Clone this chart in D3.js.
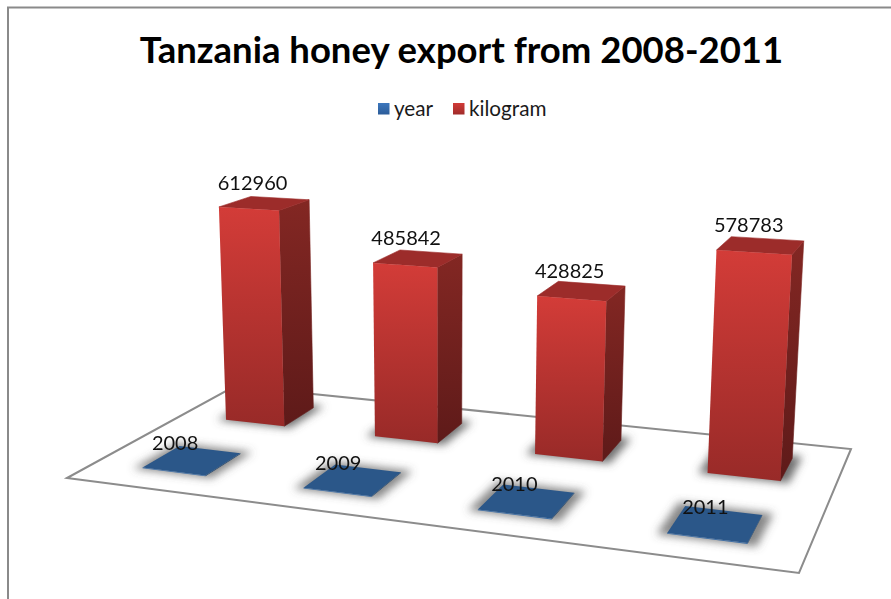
<!DOCTYPE html>
<html>
<head>
<meta charset="utf-8">
<style>
html,body{margin:0;padding:0;background:#fff;overflow:hidden}
text{font-family:Lato,"Open Sans",sans-serif}
</style>
<script src="https://cdnjs.cloudflare.com/ajax/libs/d3/7.8.5/d3.min.js"></script>
</head>
<body>
<svg id="chart" width="891" height="599"></svg>
<script>
const titleText = "Tanzania honey export from 2008-2011";
const categories = ["2008", "2009", "2010", "2011"];
const seriesNames = ["year", "kilogram"];
const yearValues = [2008, 2009, 2010, 2011];
const kilogramValues = [612960, 485842, 428825, 578783];
const valueTicks = [0, 700000];

// Camera set-up: floor corners on screen and the vanishing point of the vertical axis.
const floorQuad = [[67, 478], [799, 573], [851, 449], [235, 386]];
const verticalVanish = [446, 7000];
const riseFactor = -0.04;

function floorHomography([p0, p1, p2, p3]) {
  const dx1 = p1[0] - p2[0], dx2 = p3[0] - p2[0], sx = p0[0] - p1[0] + p2[0] - p3[0];
  const dy1 = p1[1] - p2[1], dy2 = p3[1] - p2[1], sy = p0[1] - p1[1] + p2[1] - p3[1];
  const den = dx1 * dy2 - dx2 * dy1;
  const g = (sx * dy2 - dx2 * sy) / den, h = (dx1 * sy - sx * dy1) / den;
  return {
    a: p1[0] - p0[0] + g * p1[0], b: p3[0] - p0[0] + h * p3[0], c: p0[0],
    d: p1[1] - p0[1] + g * p1[1], e: p3[1] - p0[1] + h * p3[1], f: p0[1], g, h
  };
}
const H = floorHomography(floorQuad);

// u runs along the categories, v runs into the depth, r is height above the floor.
function project(u, v, r) {
  const k = r * riseFactor;
  const w = H.g * u + H.h * v + 1 + k;
  return [
    (H.a * u + H.b * v + H.c + k * verticalVanish[0]) / w,
    (H.d * u + H.e * v + H.f + k * verticalVanish[1]) / w
  ];
}

const uScale = d3.scaleBand().domain(categories).range([0.002, 1.002]).paddingInner(0.6).paddingOuter(0.3);
const vScale = d3.scaleBand().domain(seriesNames).range([0, 1]).paddingInner(0.58).paddingOuter(0.29);
const rScale = d3.scaleLinear().domain(valueTicks).range([0, 1]);
const yearDx = d3.scaleLinear().domain([0, 3]).range([-17, -10]);

const svg = d3.select("#chart");
const defs = svg.append("defs");

function addGradient(id, top, bottom) {
  const g = defs.append("linearGradient").attr("id", id).attr("x1", 0).attr("y1", 0).attr("x2", 0).attr("y2", 1);
  g.append("stop").attr("offset", "0%").attr("stop-color", top);
  g.append("stop").attr("offset", "100%").attr("stop-color", bottom);
}
addGradient("redFront", "#d33c38", "#982a28");
addGradient("redSide", "#832723", "#5e1a19");
addGradient("legendBlue", "#3d77bd", "#2b5c99");
addGradient("legendRed", "#d13b38", "#a02c2a");
defs.append("filter").attr("id", "soft").attr("x", "-40%").attr("y", "-60%").attr("width", "180%").attr("height", "220%")
  .append("feGaussianBlur").attr("stdDeviation", 4);

const poly = d3.line();
const closed = pts => poly(pts) + "Z";

// Chart frame
svg.append("path").attr("d", "M8,599V7.5H891").attr("fill", "none").attr("stroke", "#8a8a8a").attr("stroke-width", 2);

// Title and legend
svg.append("text").attr("x", 461.5).attr("y", 63).attr("text-anchor", "middle")
  .attr("font-size", 36.5).attr("font-weight", 700).attr("fill", "#000").text(titleText);

const legend = svg.append("g");
[{name: seriesNames[0], fill: "url(#legendBlue)", x: 378}, {name: seriesNames[1], fill: "url(#legendRed)", x: 453}].forEach(d => {
  legend.append("rect").attr("x", d.x).attr("y", 103).attr("width", 11.5).attr("height", 11.5).attr("fill", d.fill);
  legend.append("text").attr("x", d.x + 16).attr("y", 115.5).attr("font-size", 20.7).attr("fill", "#1a1a1a").text(d.name);
});

// Floor
svg.append("path").attr("d", closed(floorQuad)).attr("fill", "#fff").attr("stroke", "#8c8c8c").attr("stroke-width", 2).attr("stroke-linejoin", "miter");

function buildBar(series, cat, value) {
  const u0 = uScale(cat), u1 = u0 + uScale.bandwidth();
  const v0 = vScale(series), v1 = v0 + vScale.bandwidth();
  const r = rScale(value);
  return {u0, u1, v0, v1, r, series, cat, value};
}
const bars = [
  ...categories.map((c, i) => buildBar("kilogram", c, kilogramValues[i])),
  ...categories.map((c, i) => buildBar("year", c, yearValues[i]))
];
const isRed = b => b.series === "kilogram";

// Soft contact shadows on the floor
const shadowLayer = svg.append("g").attr("filter", "url(#soft)");
shadowLayer.selectAll("path").data(bars).join("path")
  .attr("d", b => {
    const m = 0.012, n = 0.028;
    return closed([
      project(b.u0 - m, b.v0 - n * 0.4, 0), project(b.u1 + m, b.v0 - n * 0.4, 0),
      project(b.u1 + m, b.v1 + n, 0), project(b.u0 - m, b.v1 + n, 0)
    ]);
  })
  .attr("fill", "#555").attr("opacity", b => isRed(b) ? 0.85 : 0.7);

// Boxes, far row first
const boxes = svg.append("g").selectAll("g").data(bars).join("g");
boxes.append("path")
  .attr("d", b => closed([project(b.u1, b.v0, 0), project(b.u1, b.v1, 0), project(b.u1, b.v1, b.r), project(b.u1, b.v0, b.r)]))
  .attr("fill", b => isRed(b) ? "url(#redSide)" : "#1f4268")
  .attr("stroke", b => isRed(b) ? "url(#redSide)" : "none").attr("stroke-width", 0.6);
boxes.append("path")
  .attr("d", b => closed([project(b.u0, b.v0, b.r), project(b.u1, b.v0, b.r), project(b.u1, b.v1, b.r), project(b.u0, b.v1, b.r)]))
  .attr("fill", b => isRed(b) ? "#9c2c2a" : "#2b5789")
  .attr("stroke", b => isRed(b) ? "#9c2c2a" : "none").attr("stroke-width", 0.6);
boxes.append("path")
  .attr("d", b => closed([project(b.u0, b.v0, 0), project(b.u1, b.v0, 0), project(b.u1, b.v0, b.r), project(b.u0, b.v0, b.r)]))
  .attr("fill", b => isRed(b) ? "url(#redFront)" : "#3d6ea6");

// Value labels sit just above and left of each box top
const labels = svg.append("g");
labels.selectAll("text").data(bars).join("text")
  .attr("text-anchor", "middle").attr("font-size", 20).attr("fill", "#111")
  .attr("x", b => {
    const [x] = project((b.u0 + b.u1) / 2, (b.v0 + b.v1) / 2, b.r);
    return x + (isRed(b) ? -12 : yearDx(categories.indexOf(b.cat)));
  })
  .attr("y", b => project((b.u0 + b.u1) / 2, (b.v0 + b.v1) / 2, b.r)[1] + (isRed(b) ? -13 : -10))
  .text(b => b.value);
</script>
</body>
</html>
